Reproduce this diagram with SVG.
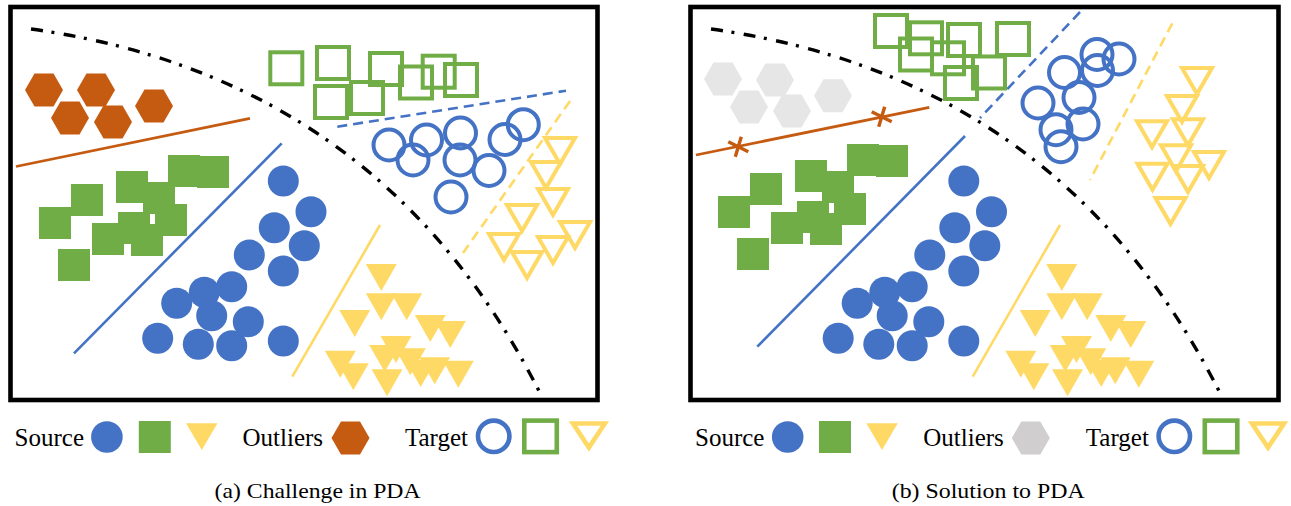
<svg xmlns="http://www.w3.org/2000/svg" xmlns:xlink="http://www.w3.org/1999/xlink" width="1291" height="506" viewBox="0 0 1291 506">
<style>
.frame{fill:#fff;stroke:#000;stroke-width:4.6}
.curve{fill:none;stroke:#000;stroke-width:3.4;stroke-dasharray:12 8.5 3 9.5}
.sc{fill:#4472C4}
.ss{fill:#70AD47}
.st{fill:#FFD966}
.tc{fill:none;stroke:#4472C4;stroke-width:4}
.ts{fill:none;stroke:#70AD47;stroke-width:4}
.tt{fill:none;stroke:#FFD966;stroke-width:4}
.hex{fill:#C55A11}
.ghex{fill:#E7E6E6}
.bl{stroke:#4472C4;stroke-width:2.6;fill:none}
.yl{stroke:#FFD966;stroke-width:2.6;fill:none}
.ol{stroke:#C55A11;stroke-width:2.8;fill:none}
.ox{stroke:#C55A11;stroke-width:3.4;fill:none}
.dash{stroke-dasharray:10 6}
.lbl{font-family:"Liberation Serif","Times New Roman",serif;font-size:25px;fill:#000}
.cap{font-family:"Liberation Serif","Times New Roman",serif;font-size:22px;fill:#000}
</style>
<defs>
<path id="tri" d="M-15.5,0H15.5L0,27Z"/>
<path id="otri" d="M-15,0H15L0,26Z"/>
<path id="hx" d="M-19,0L-9.5,-16.5H9.5L19,0L9.5,16.5H-9.5Z"/>
<path id="xm" d="M-10,-5L10,5M3,-10L-3,10"/>
<rect id="sq" x="0" y="0" width="32" height="32"/>
<rect id="osq" x="-16" y="-16" width="32" height="32"/>
<circle id="cc" r="15.5"/>
<path id="curvePath" d="M31,29Q383,78 542,397"/>
</defs>

<g id="panel-a">
<rect class="frame" x="10.5" y="7" width="587" height="393"/>
<use href="#curvePath" class="curve"/>
<g id="outliers-a">
<use href="#hx" class="hex" x="44" y="90"/>
<use href="#hx" class="hex" x="96" y="90"/>
<use href="#hx" class="hex" x="70" y="118"/>
<use href="#hx" class="hex" x="113" y="122"/>
<use href="#hx" class="hex" x="154" y="106"/>
</g>
<g id="lines-a">
<line class="ol" x1="16" y1="166.5" x2="250" y2="118.3"/>
<line class="bl" x1="281.7" y1="143.3" x2="74" y2="353.3"/>
<line class="yl" x1="380" y1="225" x2="292.3" y2="376.7"/>
<line class="bl dash" x1="337.3" y1="126.7" x2="566" y2="90.7"/>
<line class="yl dash" x1="570" y1="101" x2="463" y2="253"/>
</g>
<g id="source-squares-a" class="ss">
<use href="#sq" x="39" y="207"/><use href="#sq" x="71" y="184"/><use href="#sq" x="58" y="249"/>
<use href="#sq" x="92" y="223"/><use href="#sq" x="116" y="171"/><use href="#sq" x="118" y="212"/>
<use href="#sq" x="131" y="224"/><use href="#sq" x="143" y="182"/><use href="#sq" x="155" y="204"/>
<use href="#sq" x="168" y="155"/><use href="#sq" x="197" y="156"/>
</g>
<g id="source-circles-a" class="sc">
<use href="#cc" x="283.3" y="181"/><use href="#cc" x="311" y="211.7"/><use href="#cc" x="274.3" y="227.7"/>
<use href="#cc" x="304.3" y="245.7"/><use href="#cc" x="249.3" y="255"/><use href="#cc" x="283.3" y="271"/>
<use href="#cc" x="204.3" y="292.3"/><use href="#cc" x="231.7" y="286.7"/><use href="#cc" x="176.7" y="303.3"/>
<use href="#cc" x="211.7" y="315.7"/><use href="#cc" x="248.3" y="321.7"/><use href="#cc" x="157.7" y="338.3"/>
<use href="#cc" x="198.3" y="344.3"/><use href="#cc" x="231.7" y="345.7"/><use href="#cc" x="283.3" y="341"/>
</g>
<g id="source-triangles-a" class="st">
<use href="#tri" x="381.3" y="264"/><use href="#tri" x="381.3" y="293.3"/><use href="#tri" x="406.7" y="293.3"/>
<use href="#tri" x="354.7" y="310"/><use href="#tri" x="430.3" y="315"/><use href="#tri" x="450.3" y="321"/>
<use href="#tri" x="396" y="336"/><use href="#tri" x="384.7" y="345"/><use href="#tri" x="410.3" y="348.3"/>
<use href="#tri" x="340.3" y="350.7"/><use href="#tri" x="434.7" y="357.3"/><use href="#tri" x="458.3" y="360.7"/>
<use href="#tri" x="353.3" y="363.3"/><use href="#tri" x="387" y="369.3"/><use href="#tri" x="420.7" y="360"/>
</g>
<g id="target-squares-a" class="ts">
<use href="#osq" x="286.3" y="68.3"/><use href="#osq" x="333" y="63"/><use href="#osq" x="331" y="102"/>
<use href="#osq" x="367" y="98"/><use href="#osq" x="386" y="69"/><use href="#osq" x="416" y="82.5"/>
<use href="#osq" x="438.7" y="71.7"/><use href="#osq" x="461" y="80"/>
</g>
<g id="target-circles-a" class="tc">
<use href="#cc" x="389" y="145"/><use href="#cc" x="413" y="160"/><use href="#cc" x="426.5" y="140"/>
<use href="#cc" x="460.5" y="133"/><use href="#cc" x="460" y="160"/><use href="#cc" x="489" y="170.5"/>
<use href="#cc" x="505" y="139.5"/><use href="#cc" x="523.3" y="124.7"/><use href="#cc" x="451" y="197"/>
</g>
<g id="target-triangles-a" class="tt">
<use href="#otri" x="560" y="138"/><use href="#otri" x="546" y="162"/><use href="#otri" x="553" y="189"/>
<use href="#otri" x="522" y="205"/><use href="#otri" x="575" y="222"/><use href="#otri" x="504" y="234"/>
<use href="#otri" x="527" y="252"/><use href="#otri" x="553" y="237"/>
</g>
</g>

<g id="panel-b">
<rect class="frame" x="690.5" y="7" width="588" height="393"/>
<use href="#curvePath" class="curve" x="680"/>
<g id="outliers-b" class="ghex">
<use href="#hx" x="723" y="79"/><use href="#hx" x="775" y="80"/><use href="#hx" x="749" y="107"/>
<use href="#hx" x="792" y="111"/><use href="#hx" x="833" y="95.7"/>
</g>
<g id="lines-b">
<line class="ol" x1="696" y1="155" x2="929.3" y2="107.3"/>
<use href="#xm" class="ox" x="738.3" y="146.7"/>
<use href="#xm" class="ox" x="881.7" y="116.7"/>
<line class="bl" x1="965" y1="136" x2="757.3" y2="346.7"/>
<line class="yl" x1="1060" y1="225" x2="972.7" y2="376.7"/>
<line class="bl dash" x1="1080" y1="12" x2="980" y2="118"/>
<line class="yl dash" x1="1172.3" y1="23.3" x2="1090" y2="180"/>
</g>
<g id="source-squares-b" class="ss" transform="translate(679,-11)">
<use href="#sq" x="39" y="207"/><use href="#sq" x="71" y="184"/><use href="#sq" x="58" y="249"/>
<use href="#sq" x="92" y="223"/><use href="#sq" x="116" y="171"/><use href="#sq" x="118" y="212"/>
<use href="#sq" x="131" y="224"/><use href="#sq" x="143" y="182"/><use href="#sq" x="155" y="204"/>
<use href="#sq" x="168" y="155"/><use href="#sq" x="197" y="156"/>
</g>
<g id="source-circles-b" class="sc" transform="translate(680.5,0)">
<use href="#cc" x="283.3" y="181"/><use href="#cc" x="311" y="211.7"/><use href="#cc" x="274.3" y="227.7"/>
<use href="#cc" x="304.3" y="245.7"/><use href="#cc" x="249.3" y="255"/><use href="#cc" x="283.3" y="271"/>
<use href="#cc" x="204.3" y="292.3"/><use href="#cc" x="231.7" y="286.7"/><use href="#cc" x="176.7" y="303.3"/>
<use href="#cc" x="211.7" y="315.7"/><use href="#cc" x="248.3" y="321.7"/><use href="#cc" x="157.7" y="338.3"/>
<use href="#cc" x="198.3" y="344.3"/><use href="#cc" x="231.7" y="345.7"/><use href="#cc" x="283.3" y="341"/>
</g>
<g id="source-triangles-b" class="st" transform="translate(680.5,0)">
<use href="#tri" x="381.3" y="264"/><use href="#tri" x="381.3" y="293.3"/><use href="#tri" x="406.7" y="293.3"/>
<use href="#tri" x="354.7" y="310"/><use href="#tri" x="430.3" y="315"/><use href="#tri" x="450.3" y="321"/>
<use href="#tri" x="396" y="336"/><use href="#tri" x="384.7" y="345"/><use href="#tri" x="410.3" y="348.3"/>
<use href="#tri" x="340.3" y="350.7"/><use href="#tri" x="434.7" y="357.3"/><use href="#tri" x="458.3" y="360.7"/>
<use href="#tri" x="353.3" y="363.3"/><use href="#tri" x="387" y="369.3"/><use href="#tri" x="420.7" y="360"/>
</g>
<g id="target-squares-b" class="ts">
<use href="#osq" x="891" y="31"/><use href="#osq" x="926" y="38.3"/><use href="#osq" x="916" y="54.5"/>
<use href="#osq" x="948" y="58.3"/><use href="#osq" x="964" y="40"/><use href="#osq" x="961" y="83"/>
<use href="#osq" x="989" y="72.5"/><use href="#osq" x="1013" y="39"/>
</g>
<g id="target-circles-b" class="tc">
<use href="#cc" x="1097" y="54.5"/><use href="#cc" x="1119" y="59"/><use href="#cc" x="1064.5" y="72.5"/>
<use href="#cc" x="1097.5" y="70.5"/><use href="#cc" x="1079" y="97.5"/><use href="#cc" x="1038" y="103"/>
<use href="#cc" x="1083" y="124"/><use href="#cc" x="1056" y="129.7"/><use href="#cc" x="1061" y="146.7"/>
</g>
<g id="target-triangles-b" class="tt">
<use href="#otri" x="1197" y="68"/><use href="#otri" x="1182" y="96"/><use href="#otri" x="1188" y="119.3"/>
<use href="#otri" x="1152" y="121.3"/><use href="#otri" x="1176" y="145.3"/><use href="#otri" x="1209" y="152"/>
<use href="#otri" x="1152.5" y="163.7"/><use href="#otri" x="1188" y="166"/><use href="#otri" x="1170.5" y="198"/>
</g>
</g>

<g id="legend-a">
<text class="lbl" x="14.6" y="446">Source</text>
<circle cx="106.9" cy="437" r="15.8" fill="#4472C4"/>
<rect x="138.8" y="421" width="32" height="32" fill="#70AD47"/>
<path d="M186,423.3H217.5L201.8,450Z" fill="#FFD966"/>
<text class="lbl" x="242.5" y="446">Outliers</text>
<use href="#hx" x="350.5" y="438" fill="#C55A11"/>
<text class="lbl" x="405" y="446">Target</text>
<circle cx="493.7" cy="436.3" r="15.7" fill="none" stroke="#4472C4" stroke-width="4.6"/>
<rect x="524.3" y="420.6" width="32.5" height="31.5" fill="none" stroke="#70AD47" stroke-width="4.6"/>
<path d="M573,423.5H604.8L588.9,447.5Z" fill="none" stroke="#FFD966" stroke-width="4.6"/>
<text class="cap" x="214.6" y="498" textLength="206" lengthAdjust="spacingAndGlyphs">(a) Challenge in PDA</text>
</g>

<g id="legend-b">
<text class="lbl" x="695" y="446">Source</text>
<circle cx="787.7" cy="437" r="15.8" fill="#4472C4"/>
<rect x="819" y="421" width="32" height="32" fill="#70AD47"/>
<path d="M866.3,423.3H897.8L882,450Z" fill="#FFD966"/>
<text class="lbl" x="923.3" y="446">Outliers</text>
<use href="#hx" x="1030.8" y="438" fill="#D0CECE"/>
<text class="lbl" x="1085.8" y="446">Target</text>
<circle cx="1174.3" cy="436.3" r="15.7" fill="none" stroke="#4472C4" stroke-width="4.6"/>
<rect x="1204.8" y="420.6" width="32.5" height="31.5" fill="none" stroke="#70AD47" stroke-width="4.6"/>
<path d="M1252,423.5H1284L1268,447.5Z" fill="none" stroke="#FFD966" stroke-width="4.6"/>
<text class="cap" x="891.7" y="498" textLength="193" lengthAdjust="spacingAndGlyphs">(b) Solution to PDA</text>
</g>
</svg>
